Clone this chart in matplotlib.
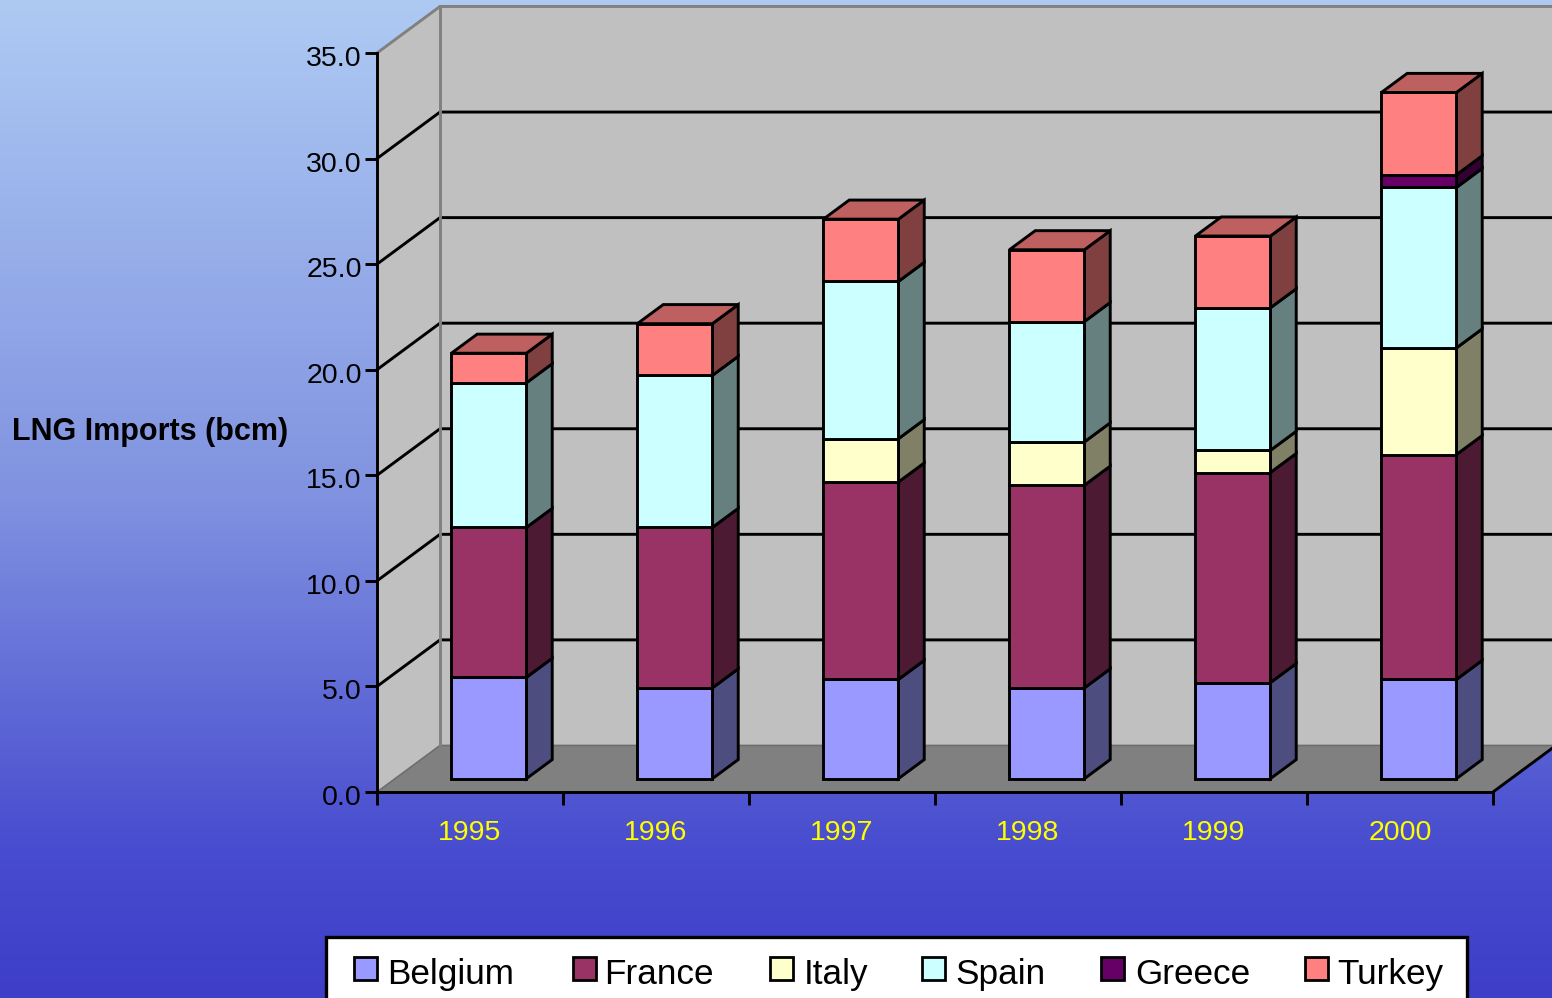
import numpy as np
import matplotlib
matplotlib.use("Agg")
import matplotlib.pyplot as plt
from matplotlib.patches import Polygon, Rectangle
from matplotlib.transforms import Affine2D

plt.rcParams['font.family'] = ['Liberation Sans', 'DejaVu Sans']

years = ["1995", "1996", "1997", "1998", "1999", "2000"]
countries = ["Belgium", "France", "Italy", "Spain", "Greece", "Turkey"]

belgium = [4.8, 4.3, 4.7, 4.3, 4.55, 4.7]
france = [7.1, 7.6, 9.35, 9.6, 9.95, 10.65]
italy = [0, 0, 2.05, 2.05, 1.05, 5.05]
spain = [6.85, 7.2, 7.45, 5.7, 6.75, 7.6]
greece = [0, 0, 0, 0, 0, 0.6]
turkey = [1.4, 2.45, 2.95, 3.4, 3.4, 3.9]
series = [belgium, france, italy, spain, greece, turkey]

face_colors = ["#9999FF", "#993366", "#FFFFCC", "#CCFFFF", "#660066", "#FF8080"]
y_ticks = [0, 5, 10, 15, 20, 25, 30, 35]

W, H = 1552, 998
LW = 2.1

# oblique depth of the plot box, in data units per unit of depth
DEPTH_X = 63 / 186
DEPTH_Y = 46.5 / 21.1
BAR_WIDTH = 75 / 186
BAR_NEAR, BAR_FAR = 0.30, 0.71


def project(x, y, depth):
    return (x + depth * DEPTH_X, y + depth * DEPTH_Y)


def shade(color, amount):
    rgb = np.array(matplotlib.colors.to_rgb(color))
    return tuple(rgb * amount)


fig = plt.figure(figsize=(W / 100, H / 100), dpi=100)

# vertical background gradient
bg = fig.add_axes([0, 0, 1, 1], zorder=0)
stops = [0, 0.5, 0.85, 1]
red = [174, 128, 72, 62]
green = [202, 146, 76, 62]
blue = [243, 224, 207, 201]
t = np.linspace(0, 1, 500)
img = np.stack([np.interp(t, stops, red), np.interp(t, stops, green), np.interp(t, stops, blue)], axis=1)
bg.imshow(img[:, None, :] / 255, extent=[0, 1, 0, 1], origin="upper", aspect="auto")
bg.axis("off")

ax = fig.add_axes([377 / W, 1 - 792 / H, 1116 / W, 739 / H], zorder=1)
ax.patch.set_alpha(0)
ax.set_xlim(0, 6)
ax.set_ylim(0, 35)

# walls and floor
n = len(years)
wall = "#C0C0C0"
ax.add_patch(Polygon([project(0, 0, 1), project(n, 0, 1), project(n, 35, 1), project(0, 35, 1)],
                     fc=wall, ec="none", clip_on=False, zorder=0.5))
ax.add_patch(Polygon([project(0, 0, 0), project(0, 0, 1), project(0, 35, 1), project(0, 35, 0)],
                     fc=wall, ec="none", clip_on=False, zorder=0.5))
ax.add_patch(Polygon([project(0, 0, 0), project(n, 0, 0), project(n, 0, 1), project(0, 0, 1)],
                     fc="#808080", ec="none", clip_on=False, zorder=0.6))

# gridlines run along the side wall and then across the back wall
for v in y_ticks[1:-1]:
    pts = [project(0, v, 0), project(0, v, 1), project(n, v, 1)]
    ax.plot(*zip(*pts), color="black", lw=LW, clip_on=False, zorder=0.7, solid_joinstyle="miter")

edge = "#808080"
pts = [project(0, 35, 0), project(0, 35, 1), project(n, 35, 1)]
ax.plot(*zip(*pts), color=edge, lw=LW, clip_on=False, zorder=0.8)
pts = [project(0, 0, 0), project(0, 0, 1), project(n, 0, 1)]
ax.plot(*zip(*pts), color="#6E6E6E", lw=1.2, clip_on=False, zorder=0.8)
pts = [project(0, 0, 1), project(0, 35, 1)]
ax.plot(*zip(*pts), color=edge, lw=LW, clip_on=False, zorder=0.8)
pts = [project(n, 0, 0), project(n, 0, 1)]
ax.plot(*zip(*pts), color="black", lw=LW, clip_on=False, zorder=0.8)

# stacked 3-d bars
for i in range(n):
    x0 = i + 0.5 - BAR_WIDTH / 2
    x1 = x0 + BAR_WIDTH
    base = -0.03
    total = sum(s[i] for s in series)
    for s, color in zip(series, face_colors):
        v = s[i]
        if v == 0:
            continue
        y0 = base
        y1 = base + v
        kw = dict(ec="black", lw=LW, joinstyle="miter", clip_on=False, zorder=3)
        ax.add_patch(Polygon([project(x1, y0, BAR_NEAR), project(x1, y0, BAR_FAR),
                              project(x1, y1, BAR_FAR), project(x1, y1, BAR_NEAR)],
                             fc=shade(color, 0.5), **kw))
        ax.add_patch(Polygon([project(x0, y0, BAR_NEAR), project(x1, y0, BAR_NEAR),
                              project(x1, y1, BAR_NEAR), project(x0, y1, BAR_NEAR)],
                             fc=color, **kw))
        if abs(y1 - (total - 0.03)) < 1e-9:
            ax.add_patch(Polygon([project(x0, y1, BAR_NEAR), project(x1, y1, BAR_NEAR),
                                  project(x1, y1, BAR_FAR), project(x0, y1, BAR_FAR)],
                                 fc=shade(color, 0.75), **kw))
        base = y1

# axes
for side in ["top", "right"]:
    ax.spines[side].set_visible(False)
for side in ["left", "bottom"]:
    ax.spines[side].set_linewidth(LW)
    ax.spines[side].set_zorder(4)

ax.set_yticks(y_ticks)
ax.set_yticklabels(["%.1f" % v for v in y_ticks], fontsize=20.5, color="black")
ax.tick_params(axis="y", length=9, width=LW, pad=2, color="black")
ax.set_xticks(range(n + 1))
ax.set_xticklabels([])
ax.tick_params(axis="x", which="major", length=9, width=LW, color="black")
ax.set_xticks(np.arange(n) + 0.5, minor=True)
ax.set_xticklabels(years, minor=True, fontsize=20.5, color="#FFFF00")
ax.tick_params(axis="x", which="minor", length=0, pad=20)
for label in ax.get_yticklabels():
    label.set_transform(label.get_transform() + Affine2D().translate(0, -3))

# overlay in pixel coordinates for the axis title and legend
ov = fig.add_axes([0, 0, 1, 1], zorder=2)
ov.set_xlim(0, W)
ov.set_ylim(H, 0)
ov.axis("off")

ov.text(12, 432, "LNG Imports (bcm)", fontsize=22, fontweight="bold", color="black",
        ha="left", va="center")

ov.add_patch(Rectangle((326, 937), 1141, 80, fc="white", ec="black", lw=2.4))
swatch_x = [354, 573, 770, 922, 1101, 1305]
label_x = [387, 604, 804, 955, 1135, 1337]
for name, color, sx, lx in zip(countries, face_colors, swatch_x, label_x):
    ov.add_patch(Rectangle((sx, 957), 23, 23, fc=color, ec="black", lw=2))
    ov.text(lx, 984, name, fontsize=25.3, color="black", ha="left", va="baseline")

fig.savefig("out.png", dpi=100)
